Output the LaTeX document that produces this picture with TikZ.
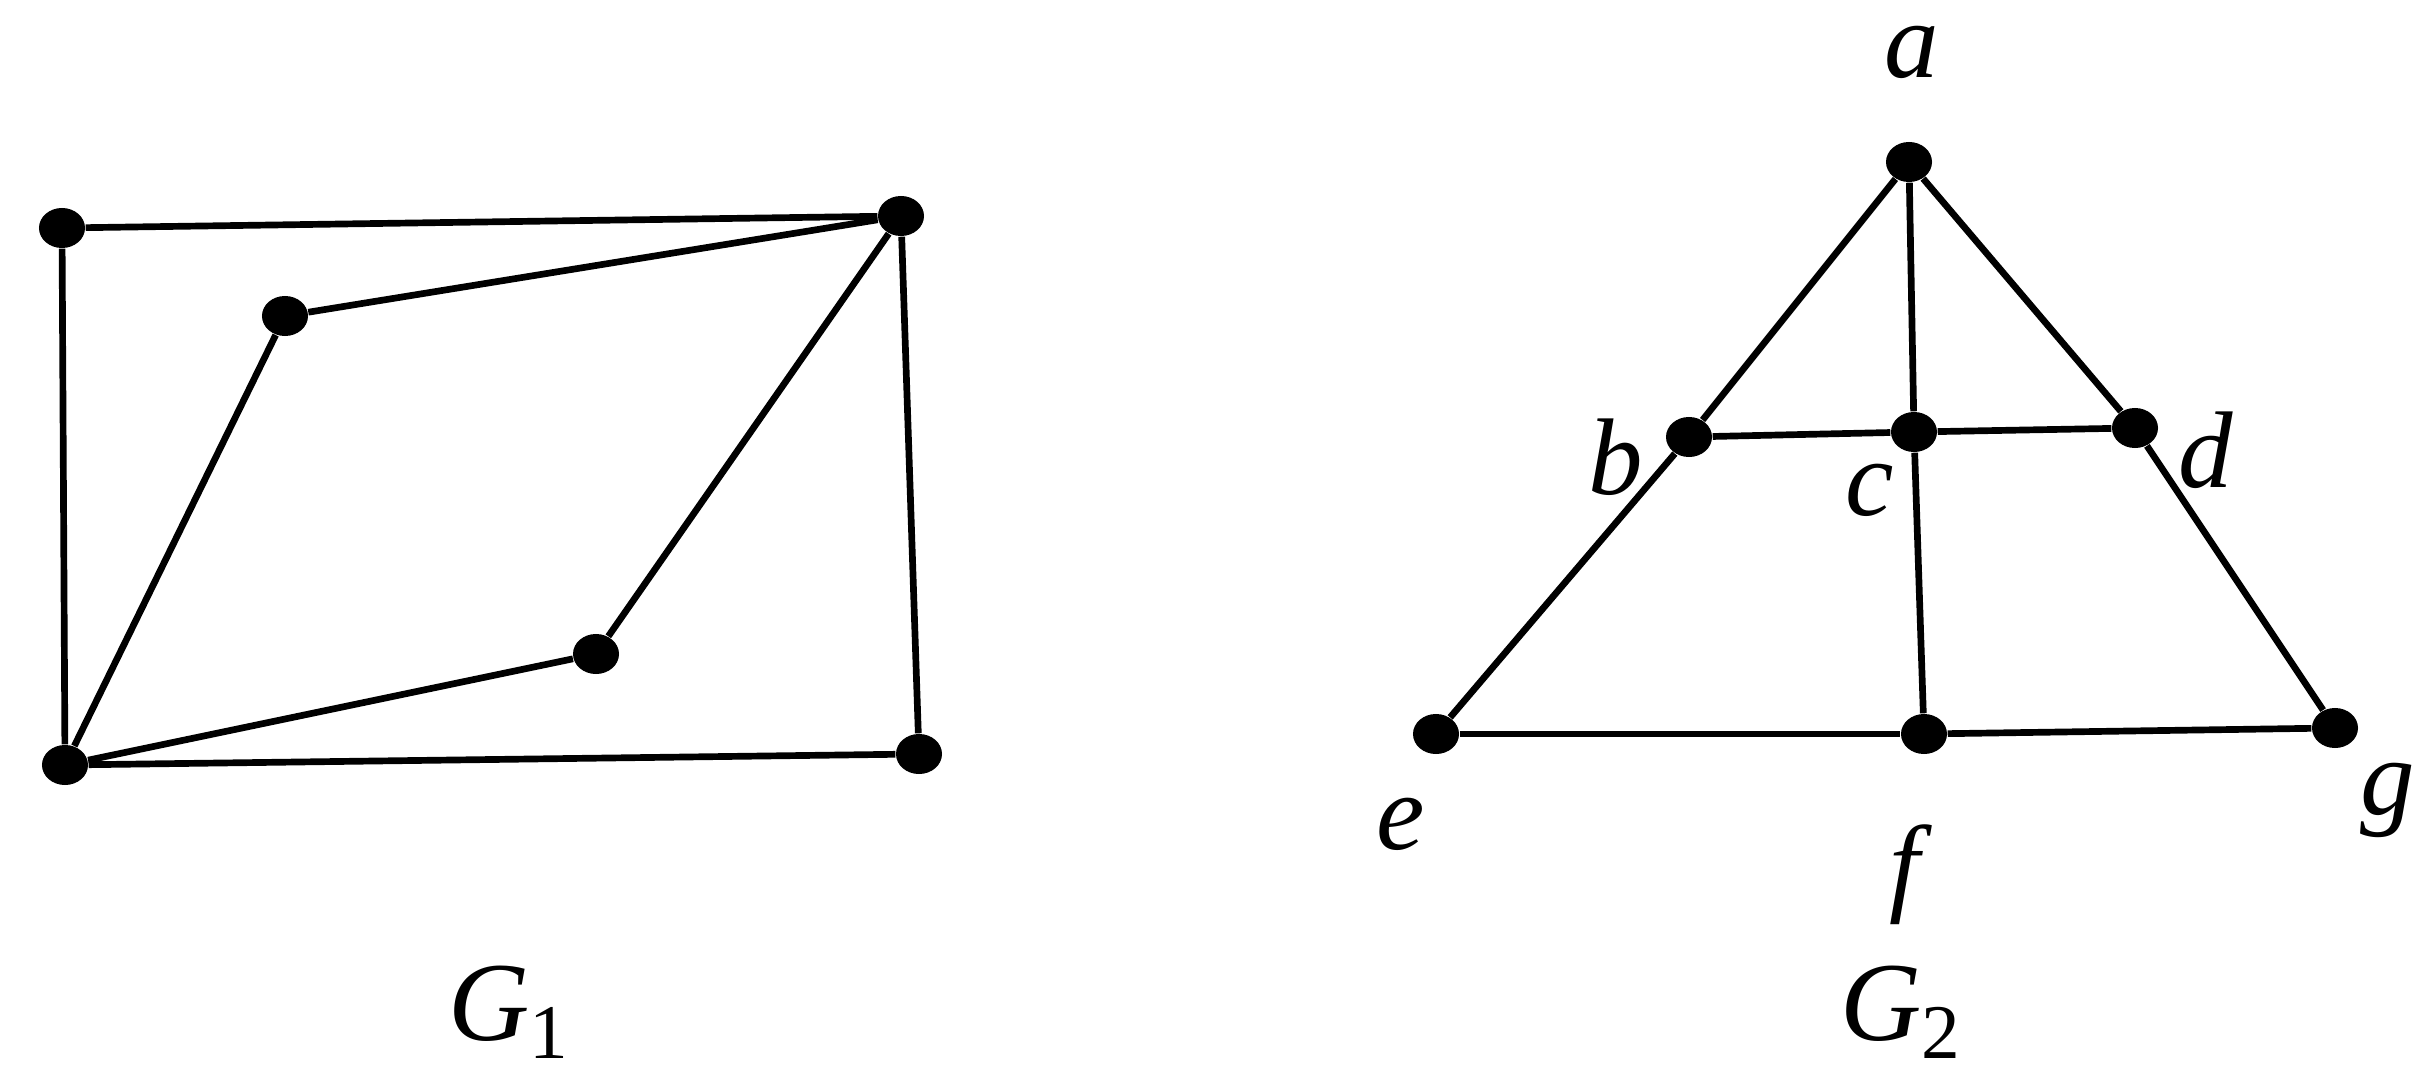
\documentclass[tikz,border=0pt]{standalone}
\usepackage{fontspec}
\setmainfont{Liberation Serif}
\usetikzlibrary{shapes.geometric}
\begin{document}
\begin{tikzpicture}[x=0.01cm,y=-0.01cm,
  vtx/.style={ellipse,fill=black,minimum width=0.46cm,minimum height=0.40cm,inner sep=0pt},
  edge/.style={line width=1.9pt},
  lbl/.style={font=\fontsize{31}{36}\selectfont\itshape,inner sep=0pt},
  glbl/.style={font=\fontsize{32}{38}\selectfont,inner sep=0pt}]
\useasboundingbox (0,0) rectangle (2414,1088);
% G1
\node[vtx] (p1) at (62,228) {};
\node[vtx] (p2) at (901,216) {};
\node[vtx] (p3) at (285,316) {};
\node[vtx] (p4) at (596,654) {};
\node[vtx] (p5) at (65,765) {};
\node[vtx] (p6) at (919,754) {};
\draw[edge] (p1) -- (p2);
\draw[edge] (p1) -- (p5);
\draw[edge] (p2) -- (p3);
\draw[edge] (p3) -- (p5);
\draw[edge] (p2) -- (p4);
\draw[edge] (p4) -- (p5);
\draw[edge] (p2) -- (p6);
\draw[edge] (p5) -- (p6);
\node[glbl] (g1) at (508,1012) {\textit{G}\raisebox{-0.35ex}{\fontsize{22}{26}\selectfont 1}};
% G2
\node[vtx] (a) at (1909,162) {};
\node[vtx] (b) at (1689,437) {};
\node[vtx] (c) at (1914,432) {};
\node[vtx] (d) at (2135,428) {};
\node[vtx] (e) at (1436,734) {};
\node[vtx] (f) at (1924,734) {};
\node[vtx] (g) at (2335,728) {};
\draw[edge] (a) -- (b);
\draw[edge] (a) -- (c);
\draw[edge] (a) -- (d);
\draw[edge] (b) -- (c);
\draw[edge] (c) -- (d);
\draw[edge] (b) -- (e);
\draw[edge] (d) -- (g);
\draw[edge] (c) -- (f);
\draw[edge] (e) -- (f);
\draw[edge] (f) -- (g);
\node[lbl,text height=0.45em,text depth=0pt] (la) at (1912,70) {a};
\node[lbl] (lb) at (1616,457) {b};
\node[lbl] (lc) at (1870,490) {c};
\node[lbl] (ld) at (2206,450) {d};
\node[lbl] (le) at (1401,824) {e};
\node[lbl] (lf) at (1905,875) {f};
\node[lbl] (lg) at (2388,800) {g};
\node[glbl] (g2) at (1900,1012) {\textit{G}\raisebox{-0.35ex}{\fontsize{22}{26}\selectfont 2}};
\end{tikzpicture}
\end{document}
